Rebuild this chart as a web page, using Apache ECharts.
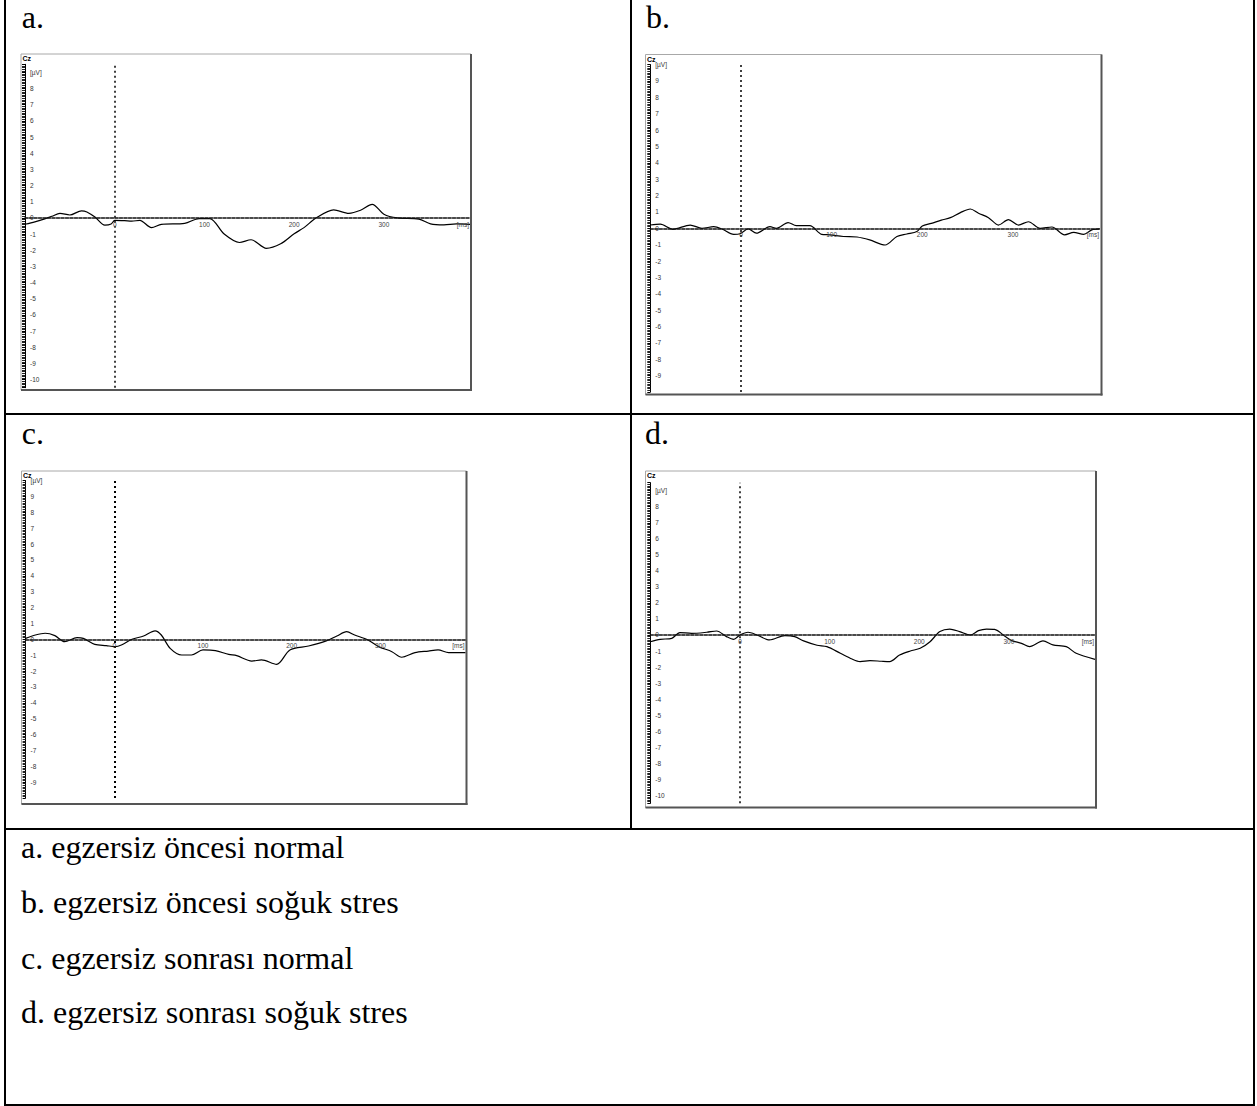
<!DOCTYPE html>
<html>
<head>
<meta charset="utf-8">
<script src="https://cdn.jsdelivr.net/npm/echarts@6/dist/echarts.min.js"></script>
<style>
html,body{margin:0;padding:0;background:#fff;}
#main{width:1257px;height:1106px;}
</style>
</head>
<body>
<div id="main"></div>
<script>
// ---- data (time in ms, amplitude in µV) ----
const timesA = [-100,-89,-78,-70,-61,-50,-37,-31,-22,-11,-4,0,11,19,28,41,52,78,94,106,122,139,152,169,185,200,211,224,244,261,274,287,300,315,339,352,367,381,396];
const valuesA = [-0.39,-0.24,-0.06,0.1,0.28,0.18,0.44,0.37,0.05,-0.45,-0.38,-0.15,-0.17,-0.2,-0.15,-0.6,-0.4,-0.34,-0.04,-0.04,-1.0,-1.52,-1.35,-1.88,-1.6,-0.98,-0.6,-0.02,0.5,0.28,0.47,0.84,0.23,0,-0.07,-0.37,-0.43,-0.37,-0.4];

const timesB = [-100,-89,-75,-56,-43,-30,-21,-8,-1,8,17,32,39,52,61,76,89,98,113,128,142,159,172,183,194,200,210,221,231,242,253,262,273,284,295,306,317,330,343,357,367,378,387,396];
const valuesB = [0.2,0.25,-0.06,0.2,0,0.1,-0.04,-0.37,-0.33,-0.04,-0.3,0.1,0,0.35,0.16,0.16,-0.37,-0.4,-0.5,-0.53,-0.71,-1.02,-0.5,-0.35,-0.2,0.14,0.3,0.5,0.65,0.96,1.18,0.92,0.65,0.2,0.53,0.2,0.4,0,0.08,-0.4,-0.25,-0.37,-0.1,-0.04];

const timesC = [-100,-89,-78,-67,-56,-42,-35,-22,-9,1,8,20,33,46,53,63,76,87,100,114,129,138,155,166,183,198,219,239,251,262,271,286,298,313,324,339,354,365,377,396];
const valuesC = [0.06,0.27,0.38,0.23,-0.15,0.1,0.06,-0.32,-0.4,-0.46,-0.36,0,0.21,0.53,0.27,-0.57,-0.99,-0.99,-0.67,-0.71,-0.95,-1.03,-1.37,-1.3,-1.58,-0.67,-0.42,-0.1,0.21,0.48,0.27,-0.04,-0.46,-0.78,-1.13,-0.84,-0.74,-0.67,-0.84,-0.84];

const timesD = [-100,-89,-76,-67,-54,-37,-26,-15,-7,0,9,19,33,50,61,71,86,97,112,125,134,145,158,167,178,190,201,212,223,234,245,257,266,275,284,296,303,314,323,338,349,364,375,396];
const valuesD = [-0.42,-0.27,-0.21,0.15,0.1,0.17,0.25,-0.1,-0.27,0,0.17,0,-0.31,-0.04,-0.1,-0.37,-0.64,-0.73,-1.14,-1.5,-1.66,-1.6,-1.64,-1.66,-1.25,-1.0,-0.83,-0.42,0.21,0.37,0.21,0,0.27,0.37,0.35,-0.1,-0.35,-0.52,-0.73,-0.37,-0.62,-0.73,-1.14,-1.52];

const panelLetters = ['a.', 'b.', 'c.', 'd.'];
const captions = ['a. egzersiz öncesi normal', 'b. egzersiz öncesi soğuk stres', 'c. egzersiz sonrası normal', 'd. egzersiz sonrası soğuk stres'];
const channelName = 'Cz';
const xTickLabels = ['0', '100', '200', '300'];
const xUnit = '[ms]';
const yUnit = '[µV]';
const xRange = [-100, 396];
const yRanges = [[-10.5, 9.5], [-10, 10], [-10, 10], [-10.5, 9.5]];

// ---- layout ----
const grids = [
  {left: 25, top: 64.3, width: 445, height: 323.4},
  {left: 650.3, top: 64.6, width: 449.7, height: 327.4},
  {left: 25.6, top: 480.6, width: 439.9, height: 317.4},
  {left: 650.3, top: 482.7, width: 444.7, height: 320.6}
];
const frames = [
  {x: 21, y: 54, w: 450, h: 336},
  {x: 645.5, y: 54.5, w: 456, h: 340},
  {x: 21.5, y: 471, w: 445, h: 333},
  {x: 645.5, y: 471, w: 450.5, h: 336.5}
];
const letterPos = [[21.7, 28.3], [646, 28.3], [21.7, 444], [645, 444]];
const captionBaselines = [858, 913, 969, 1023];
const vDashWidth = [1.5, 1.5, 2, 1.5];

const seriesData = [[timesA, valuesA], [timesB, valuesB], [timesC, valuesC], [timesD, valuesD]];

const chart = echarts.init(document.getElementById('main'), null, {renderer: 'svg'});

const xAxes = [], yAxes = [], series = [];
for (let i = 0; i < 4; i++) {
  const yr = yRanges[i];
  const g = grids[i];
  // distance (px) from the bottom of the plot to the zero line, used to lift the x axis onto y = 0
  const zeroLift = g.height * (0 - yr[0]) / (yr[1] - yr[0]);
  const topTick = Math.floor(yr[1]);
  const bottomHidden = (yr[0] === -10) ? -10 : null;
  xAxes.push({
    gridIndex: i, type: 'value', min: xRange[0], max: xRange[1], interval: 100,
    position: 'bottom', offset: -zeroLift, z: 10,
    axisLine: {show: true, onZero: false, lineStyle: {color: '#111', width: 1.6, type: [3, 1.5]}},
    axisTick: {show: false},
    splitLine: {show: false},
    axisLabel: {
      fontSize: 6.5, color: '#444', margin: 3, fontFamily: 'Liberation Sans',
      showMinLabel: true, hideOverlap: false,
      formatter: v => xTickLabels.indexOf(String(v)) >= 0 ? String(v) : ''
    },
    name: xUnit, nameLocation: 'end', nameGap: -1,
    nameTextStyle: {fontSize: 6.5, color: '#444', fontFamily: 'Liberation Sans', align: 'right', verticalAlign: 'top', padding: [3, 0, 0, 0]}
  });
  yAxes.push({
    gridIndex: i, type: 'value', min: yr[0], max: yr[1],
    splitNumber: 20, minInterval: 1, maxInterval: 1,
    axisLine: {show: true, onZero: false, lineStyle: {color: '#000', width: 1}},
    axisTick: {show: true, length: 3, lineStyle: {color: '#000', width: 1}},
    minorTick: {show: true, splitNumber: 10, length: 3, lineStyle: {color: '#222', width: 1}},
    splitLine: {show: false},
    minorSplitLine: {show: false},
    axisLabel: {
      inside: true, margin: 5, fontSize: 6.5, color: '#333', fontFamily: 'Liberation Sans',
      formatter: v => {
        if (!Number.isInteger(v)) return '';
        if (v === topTick) return yUnit;
        if (v === bottomHidden) return '';
        return String(v);
      }
    }
  });
  const [ts, vs] = seriesData[i];
  series.push({
    type: 'line', xAxisIndex: i, yAxisIndex: i,
    data: ts.map((t, k) => [t, vs[k]]),
    showSymbol: false, smooth: 0.3,
    lineStyle: {color: '#000', width: 1.2},
    markLine: {
      silent: true, symbol: ['none', 'none'], label: {show: false},
      lineStyle: {color: '#000', type: [2, 3], width: vDashWidth[i]},
      data: [{xAxis: 0}]
    }
  });
}

const graphics = [];
// chart frames
frames.forEach(f => {
  graphics.push({type: 'rect', z: -10, shape: {x: f.x, y: f.y, width: f.w, height: f.h}, style: {fill: '#fff', stroke: '#a8a8a8', lineWidth: 1}});
  graphics.push({type: 'line', z: 10, shape: {x1: f.x + f.w, y1: f.y, x2: f.x + f.w, y2: f.y + f.h + 1}, style: {stroke: '#555', lineWidth: 2}});
  graphics.push({type: 'line', z: 10, shape: {x1: f.x, y1: f.y + f.h, x2: f.x + f.w + 1, y2: f.y + f.h}, style: {stroke: '#555', lineWidth: 2}});
  graphics.push({type: 'text', z: 10, x: f.x + 1.5, y: f.y + 1, style: {text: channelName, fontSize: 7, fontWeight: 'bold', fontFamily: 'Liberation Sans', fill: '#000', verticalAlign: 'top'}});
});
// table lines
const tableLines = [
  [5, 0, 5, 1106],
  [1254, 0, 1254, 1106],
  [631, 0, 631, 829],
  [5, 414, 1254, 414],
  [5, 829, 1254, 829],
  [5, 1105, 1254, 1105]
];
tableLines.forEach(l => graphics.push({type: 'line', z: 20, shape: {x1: l[0], y1: l[1], x2: l[2], y2: l[3]}, style: {stroke: '#000', lineWidth: 2}}));
// panel letters
panelLetters.forEach((t, i) => graphics.push({type: 'text', x: letterPos[i][0], y: letterPos[i][1] - 11, style: {text: t, fontSize: 32, fontFamily: 'Liberation Serif', fill: '#000', verticalAlign: 'middle'}}));
// captions
captions.forEach((t, i) => graphics.push({type: 'text', x: 21, y: captionBaselines[i] - 11, style: {text: t, fontSize: 32, fontFamily: 'Liberation Serif', fill: '#000', verticalAlign: 'middle'}}));

chart.setOption({
  animation: false,
  backgroundColor: '#fff',
  grid: grids.map(g => Object.assign({containLabel: false}, g)),
  xAxis: xAxes,
  yAxis: yAxes,
  series: series,
  graphic: graphics
});
</script>
</body>
</html>
